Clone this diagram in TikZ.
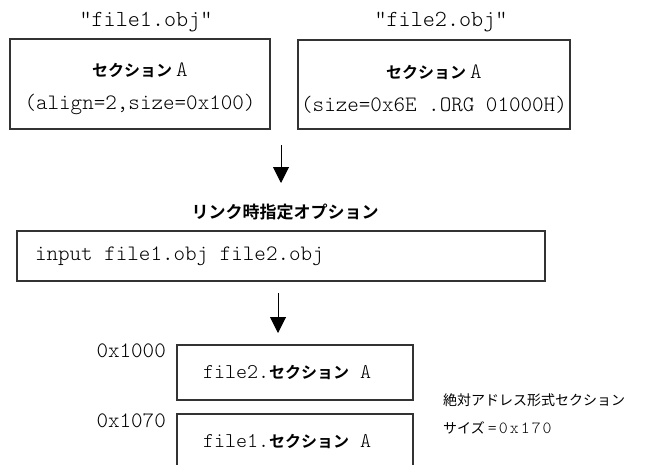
\documentclass[tikz,border=0pt]{standalone}
\usepackage{fontspec}
\usepackage{tikz}
\usetikzlibrary{arrows.meta, calc, positioning}
\newfontfamily\mono{lmmonolt10-regular.otf}
\newfontfamily\monosp[LetterSpace=12]{lmmonolt10-regular.otf}
\newfontfamily\jp{Noto Sans CJK JP}
\newfontfamily\jpb{Noto Sans CJK JP Bold}
\definecolor{rand}{HTML}{333333}
\newcommand{\jpsek}{{\jpb\fontsize{16}{19}\selectfont セクション}}

\begin{document}
\begin{tikzpicture}[
        x=1pt, y=-1pt,
        box/.style={draw=rand, line width=1.2pt, inner sep=0pt, align=center},
        lbox/.style={box, align=left, execute at begin node={\spaceskip=0pt\relax}},
        arr/.style={-{Triangle[length=16pt,width=16pt]}, line width=1pt, black},
        mtxt/.style={font=\mono\fontsize{22}{24}\selectfont, inner sep=0pt}
      ]
      \clip (0,0) rectangle (671,464);
      % object files
      \node[mtxt, font=\mono\fontsize{23}{24}\selectfont] (name1) at (146,22) {"file1.obj"};
      \node[mtxt, font=\mono\fontsize{23}{24}\selectfont] (name2) at (441,22) {"file2.obj"};
      \draw[rand, line width=1.2pt] (10,39) rectangle (270,129);
      \node[box, draw=none, minimum width=260pt, minimum height=90pt,
            font=\mono\fontsize{22}{33}\selectfont] (obj1) at (140,89)
        {\jpsek\kern4pt A\\(align=2,size=0x100)};
      \draw[rand, line width=1.2pt] (298,40) rectangle (570,129);
      \node[box, draw=none, minimum width=272pt, minimum height=90pt,
            font=\mono\fontsize{22}{33}\selectfont] (obj2) at (434,89)
        {\jpsek\kern4pt A\\(size=0x6E .ORG 01000H)};
      \coordinate (pfeil1a) at (281,145);
      \coordinate (pfeil1b) at (281,183);
      \draw[arr] (pfeil1a) -- (pfeil1b);
      % link options
      \node[font=\jpb\fontsize{17}{20}\selectfont, inner sep=0pt] (opt) at (285,212)
        {リンク時指定オプション};
      \node[lbox, minimum height=50pt, text width=492pt, inner xsep=18pt,
            font=\mono\fontsize{22}{24}\selectfont] (cmd) at (281,256)
        {input file1.obj file2.obj};
      \coordinate (pfeil2a) at (278,293);
      \coordinate (pfeil2b) at (278,333);
      \draw[arr] (pfeil2a) -- (pfeil2b);
      % result
      \node[lbox, minimum width=236pt, minimum height=55pt, text width=184pt,
            inner xsep=26pt, font=\mono\fontsize{21}{24}\selectfont] (sek2) at (295,372.5)
        {file2.\jpsek{} A};
      \node[lbox, minimum width=236pt, minimum height=55pt, text width=184pt,
            inner xsep=26pt, font=\mono\fontsize{21}{24}\selectfont] (sek1) at (295,441.5)
        {file1.\jpsek{} A};
      \node[mtxt, anchor=east] (adr1) at (166,351) {0x1000};
      \node[mtxt, anchor=east] (adr2) at (166,421) {0x1070};
      \node[anchor=west, align=left, inner sep=0pt,
            execute at begin node={\spaceskip=0pt\relax},
            font=\jp\fontsize{14}{28}\selectfont] (info) at (443,414)
        {絶対アドレス形式セクション\\サイズ {\monosp\fontsize{17}{18}\selectfont =0x170}};
\end{tikzpicture}
\end{document}
